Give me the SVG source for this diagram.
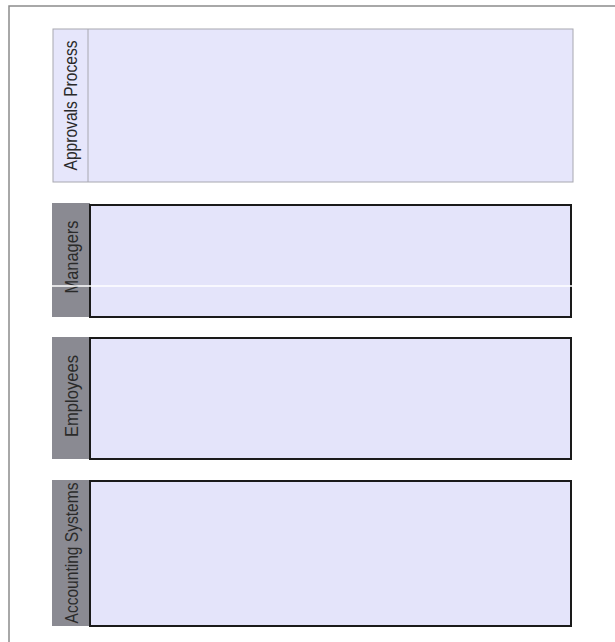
<svg xmlns="http://www.w3.org/2000/svg" width="615" height="642" viewBox="0 0 615 642">
<style>
.lbl{font-family:"Liberation Sans",Arial,sans-serif;font-size:17.5px;fill:#2a2a2a;text-anchor:middle}
.hdr{fill:#8a8a92}
.body{fill:#e4e4fa;stroke:#1a1a1a;stroke-width:2}
</style>
<rect width="615" height="642" fill="#fff"/>
<g id="frame">
<path d="M9 642 V6 H615" fill="none" stroke="#8c8c8c" stroke-width="1.5"/>
</g>
<g id="approvals-process">
<rect x="53" y="29" width="520" height="153" fill="#e6e6fb" stroke="#a8a8b0" stroke-width="1"/>
<line x1="88" y1="29" x2="88" y2="182" stroke="#a8a8b0" stroke-width="1"/>
<text class="lbl" transform="translate(77 105.5) rotate(-90)" textLength="130" lengthAdjust="spacingAndGlyphs">Approvals Process</text>
</g>
<g id="managers">
<rect class="hdr" x="52" y="203" width="38" height="114"/>
<rect class="body" x="90" y="205" width="481" height="112"/>
<text class="lbl" transform="translate(78 257) rotate(-90)" textLength="73" lengthAdjust="spacingAndGlyphs">Managers</text>
<line x1="50" y1="286" x2="580" y2="286" stroke="#fff" stroke-width="1.5"/>
</g>
<g id="employees">
<rect class="hdr" x="52" y="337" width="38" height="122"/>
<rect class="body" x="90" y="338" width="481" height="121"/>
<text class="lbl" transform="translate(78 396) rotate(-90)" textLength="82" lengthAdjust="spacingAndGlyphs">Employees</text>
</g>
<g id="accounting-systems">
<rect class="hdr" x="52" y="480" width="38" height="146"/>
<rect class="body" x="90" y="481" width="481" height="145"/>
<text class="lbl" transform="translate(78 553) rotate(-90)" textLength="141" lengthAdjust="spacingAndGlyphs">Accounting Systems</text>
</g>
<g id="connectors"></g>
</svg>
